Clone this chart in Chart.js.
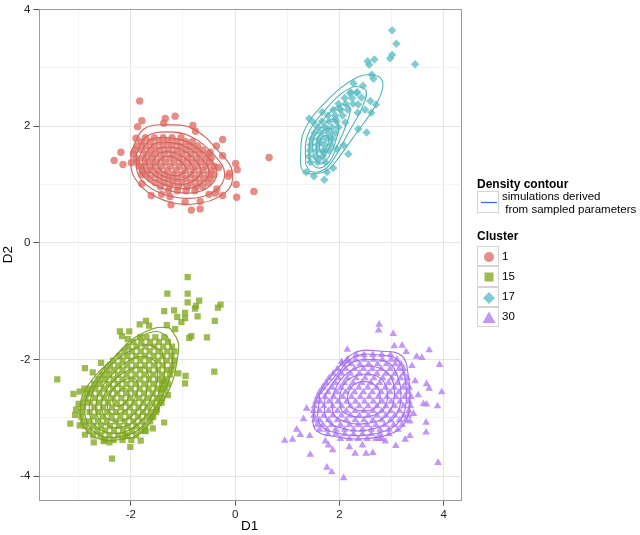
<!DOCTYPE html>
<html>
<head>
<meta charset="utf-8">
<script src="https://cdn.jsdelivr.net/npm/chart.js@4.4.0/dist/chart.umd.min.js"></script>
<style>
  body { margin: 0; background: #fff; font-family: "Liberation Sans", Arial, sans-serif; }
  #wrap { position: relative; width: 640px; height: 535px; overflow: hidden; }
  #chart { position: absolute; left: 0; top: 0; }
  .ltitle { position: absolute; left: 477px; font-weight: bold; font-size: 12px; line-height: 13px; color: #000; white-space: nowrap; }
  .ltext { position: absolute; left: 502px; font-size: 11.5px; line-height: 13.3px; color: #000; white-space: pre; }
  .key { position: absolute; left: 477px; width: 22px; box-sizing: border-box; border: 1px solid #d4d4d4; background: #fff; }
  .key svg { position: absolute; left: 0; top: 0; }
</style>
</head>
<body>
<div id="wrap">
  <canvas id="chart" width="640" height="535"></canvas>
  <div id="legend"></div>
</div>
<script>
// === DỮ LIỆU ===
const clusters = ["1", "15", "17", "30"];
const xMajorTicks = [-2, 0, 2, 4];
const yMajorTicks = [-4, -2, 0, 2, 4];
const legendContourLabel = "simulations derived\n from sampled parameters";

// Cluster 1 - scattered points [x, y]
const c1Points = [
  [-1.83,2.43],[-1.79,2.09],[-1.34,2.13],[-1.15,2.17],[-1.37,2.05],[-1.87,1.99],[-0.81,2.01],[-0.76,1.91],
  [-1.90,1.79],[-2.19,1.55],[-2.32,1.41],[-2.15,1.34],[-1.99,1.37],[-0.24,1.77],[-0.36,1.66],[-0.24,1.49],
  [0.65,1.46],[0.01,1.36],[0.04,1.25],[-0.11,1.19],[-0.13,1.14],[0.02,1.00],[0.36,0.88],[0.03,0.78],
  [-0.24,0.81],[-0.38,0.85],[-0.50,0.83],[-0.67,0.71],[-0.96,0.70],[-1.23,0.65],[-0.84,0.56],[-0.67,0.58],
  [-1.61,0.81],[-1.79,1.01],[-1.41,0.83],[-1.25,0.79],[-0.35,0.92],[-0.32,1.29],[-0.48,1.55],[-1.79,1.17]
];
// Cluster 1 - dense core, rows of [y, x1, x2, ...]
const c1Rows = [
  [1.80, -1.72,-1.55,-1.38,-1.21,-1.04],
  [1.73, -1.80,-1.63,-1.46,-1.29,-1.12,-0.95,-0.82],
  [1.66, -1.88,-1.72,-1.55,-1.38,-1.21,-1.04,-0.87,-0.72],
  [1.59, -1.92,-1.79,-1.62,-1.45,-1.28,-1.11,-0.94,-0.77,-0.62],
  [1.52, -1.95,-1.70,-1.53,-1.36,-1.19,-1.02,-0.85,-0.68,-0.52],
  [1.45, -1.90,-1.76,-1.59,-1.42,-1.25,-1.08,-0.91,-0.74,-0.57,-0.46],
  [1.38, -1.88,-1.68,-1.51,-1.34,-1.17,-1.00,-0.83,-0.66,-0.49],
  [1.31, -1.84,-1.75,-1.58,-1.41,-1.24,-1.07,-0.90,-0.73,-0.56,-0.40],
  [1.24, -1.78,-1.64,-1.47,-1.30,-1.13,-0.96,-0.79,-0.62,-0.45],
  [1.17, -1.70,-1.53,-1.36,-1.19,-1.02,-0.85,-0.68,-0.51,-0.41],
  [1.10, -1.63,-1.45,-1.28,-1.11,-0.94,-0.77,-0.60,-0.47],
  [1.03, -1.53,-1.36,-1.19,-1.02,-0.85,-0.68,-0.52],
  [0.96, -1.43,-1.26,-1.09,-0.92,-0.75,-0.62],
  [0.89, -1.28,-1.11,-0.94,-0.77]
];
const c1Contours = [
  [[-2.0,1.55],[-1.75,1.95],[-1.3,2.02],[-0.8,1.95],[-0.3,1.55],[-0.05,1.2],[-0.2,0.85],[-0.85,0.66],[-1.55,0.8],[-1.95,1.15]],
  [[-1.9,1.5],[-1.7,1.82],[-1.3,1.9],[-0.85,1.82],[-0.4,1.5],[-0.2,1.18],[-0.4,0.88],[-0.9,0.76],[-1.5,0.88],[-1.85,1.15]],
  [[-1.85,1.45],[-1.65,1.75],[-1.3,1.8],[-0.9,1.72],[-0.5,1.45],[-0.35,1.18],[-0.55,0.93],[-0.95,0.85],[-1.45,0.95],[-1.8,1.18]],
  [[-1.78,1.42],[-1.58,1.68],[-1.3,1.72],[-0.95,1.65],[-0.62,1.42],[-0.5,1.2],[-0.68,1.0],[-1.0,0.93],[-1.42,1.02],[-1.72,1.2]],
  [[-1.7,1.4],[-1.52,1.6],[-1.28,1.64],[-1.0,1.58],[-0.75,1.4],[-0.65,1.22],[-0.8,1.06],[-1.05,1.0],[-1.38,1.08],[-1.63,1.22]],
  [[-1.6,1.38],[-1.45,1.53],[-1.27,1.56],[-1.05,1.5],[-0.87,1.38],[-0.8,1.24],[-0.92,1.12],[-1.1,1.08],[-1.35,1.13],[-1.55,1.25]],
  [[-1.5,1.36],[-1.38,1.46],[-1.24,1.48],[-1.1,1.43],[-0.98,1.34],[-0.95,1.25],[-1.04,1.17],[-1.17,1.15],[-1.34,1.19],[-1.46,1.27]]
];

// Cluster 15
const c15Points = [
  [-0.91,-0.59],[-1.30,-0.87],[-0.91,-0.87],[-0.91,-1.02],[-0.69,-0.99],[-0.75,-1.08],[-0.77,-1.13],[-0.28,-1.06],
  [-0.33,-1.11],[-1.36,-1.17],[-1.17,-1.16],[-0.96,-1.20],[-0.72,-1.26],[-1.11,-1.27],[-0.96,-1.29],[-1.03,-1.36],
  [-0.39,-1.34],[-1.71,-1.34],[-1.83,-1.40],[-1.65,-1.42],[-1.31,-1.41],[-1.15,-1.48],[-2.21,-1.52],[-2.03,-1.52],
  [-2.17,-1.60],[-2.06,-1.65],[-0.54,-1.62],[-0.84,-1.60],[-0.88,-1.63],[-0.40,-2.21],[-1.09,-2.24],[-0.95,-2.28],
  [-0.96,-2.41],[-3.41,-2.34],[-2.88,-2.15],[-2.73,-2.22],[-2.57,-2.06],[-3.10,-2.59],[-2.98,-2.55],[-2.89,-2.50],
  [-3.00,-2.76],[-3.05,-2.86],[-3.07,-2.95],[-3.16,-3.10],[-2.98,-3.13],[-2.88,-3.29],[-2.71,-3.42],[-2.52,-3.40],
  [-2.41,-3.42],[-2.11,-3.31],[-2.01,-3.50],[-1.81,-3.39],[-1.72,-3.23],[-1.58,-3.18],[-1.36,-3.08],[-2.36,-3.70],
  [-1.60,-2.99],[-1.50,-2.86],[-1.41,-2.74],[-1.29,-2.61],[-1.37,-2.37],[-1.41,-2.51]
];
const c15Rows = [
  [-3.38, -2.50,-2.33,-2.16,-1.99],
  [-3.30, -2.72,-2.58,-2.41,-2.24,-2.07,-1.90],
  [-3.22, -2.80,-2.64,-2.49,-2.32,-2.15,-1.98,-1.81,-1.72],
  [-3.14, -2.88,-2.72,-2.57,-2.40,-2.23,-2.06,-1.89,-1.73],
  [-3.06, -2.92,-2.80,-2.63,-2.46,-2.29,-2.12,-1.95,-1.78,-1.63],
  [-2.98, -2.95,-2.71,-2.54,-2.37,-2.20,-2.03,-1.86,-1.69,-1.57],
  [-2.90, -2.94,-2.79,-2.62,-2.45,-2.28,-2.11,-1.94,-1.77,-1.60,-1.52],
  [-2.82, -2.92,-2.70,-2.53,-2.36,-2.19,-2.02,-1.85,-1.68,-1.51],
  [-2.74, -2.90,-2.78,-2.61,-2.44,-2.27,-2.10,-1.93,-1.76,-1.59,-1.45],
  [-2.66, -2.87,-2.69,-2.52,-2.35,-2.18,-2.01,-1.84,-1.67,-1.50,-1.40],
  [-2.58, -2.84,-2.77,-2.60,-2.43,-2.26,-2.09,-1.92,-1.75,-1.58,-1.42],
  [-2.50, -2.78,-2.68,-2.51,-2.34,-2.17,-2.00,-1.83,-1.66,-1.49,-1.34],
  [-2.42, -2.70,-2.59,-2.42,-2.25,-2.08,-1.91,-1.74,-1.57,-1.40,-1.29],
  [-2.34, -2.62,-2.50,-2.33,-2.16,-1.99,-1.82,-1.65,-1.48,-1.32],
  [-2.26, -2.54,-2.42,-2.25,-2.08,-1.91,-1.74,-1.57,-1.40,-1.25],
  [-2.18, -2.46,-2.33,-2.16,-1.99,-1.82,-1.65,-1.48,-1.31,-1.22],
  [-2.10, -2.40,-2.24,-2.07,-1.90,-1.73,-1.56,-1.39,-1.20],
  [-2.02, -2.34,-2.16,-1.99,-1.82,-1.65,-1.48,-1.31,-1.17],
  [-1.94, -2.22,-2.07,-1.90,-1.73,-1.56,-1.39,-1.22],
  [-1.86, -2.12,-1.98,-1.81,-1.64,-1.47,-1.30,-1.16],
  [-1.78, -2.05,-1.89,-1.72,-1.55,-1.38,-1.21],
  [-1.70, -1.95,-1.80,-1.63,-1.46,-1.29],
  [-1.62, -1.82,-1.70,-1.53,-1.36]
];
const c15Contours = [
  [[-1.25,-1.46],[-1.09,-1.71],[-1.12,-2.05],[-1.21,-2.40],[-1.47,-2.85],[-1.79,-3.25],[-2.11,-3.36],[-2.62,-3.36],[-2.91,-3.13],[-2.95,-2.68],[-2.68,-2.28],[-2.36,-2.00],[-1.98,-1.66],[-1.53,-1.46]],
  [[-1.3,-1.6],[-1.2,-1.9],[-1.25,-2.3],[-1.5,-2.8],[-1.85,-3.2],[-2.2,-3.32],[-2.6,-3.3],[-2.85,-3.05],[-2.85,-2.65],[-2.6,-2.25],[-2.25,-1.9],[-1.8,-1.6],[-1.5,-1.52]],
  [[-1.4,-1.85],[-1.35,-2.2],[-1.5,-2.65],[-1.8,-3.05],[-2.15,-3.25],[-2.55,-3.22],[-2.78,-2.98],[-2.75,-2.6],[-2.5,-2.2],[-2.1,-1.9],[-1.7,-1.75]],
  [[-1.5,-2.05],[-1.5,-2.4],[-1.7,-2.8],[-2.0,-3.1],[-2.4,-3.15],[-2.65,-2.95],[-2.62,-2.6],[-2.35,-2.25],[-2.0,-2.0],[-1.7,-1.95]],
  [[-1.65,-2.3],[-1.75,-2.7],[-2.0,-2.98],[-2.35,-3.05],[-2.55,-2.88],[-2.5,-2.58],[-2.25,-2.3],[-1.95,-2.15],[-1.72,-2.15]],
  [[-1.85,-2.45],[-1.95,-2.72],[-2.15,-2.9],[-2.38,-2.92],[-2.45,-2.75],[-2.35,-2.52],[-2.12,-2.35],[-1.92,-2.33]],
  [[-2.02,-2.6],[-2.12,-2.75],[-2.28,-2.8],[-2.35,-2.7],[-2.25,-2.56],[-2.1,-2.5]]
];

// Cluster 17
const c17Points = [
  [3.01,3.64],[3.09,3.41],[3.01,3.22],[2.97,3.16],[3.45,3.06],[2.54,3.11],[2.67,3.14],[2.57,3.05],
  [2.62,2.88],[2.65,2.81],[2.27,2.73],[2.45,2.69],[2.33,2.57],[2.20,2.56],[2.42,2.49],[2.59,2.43],
  [2.70,2.37],[2.36,2.37],[2.61,2.23],[2.35,2.23],[2.49,2.28],[2.01,2.29],[1.67,2.24],[1.42,2.13],
  [1.92,2.12],[2.11,2.06],[2.36,1.95],[2.52,1.89],[2.17,1.52],[1.88,1.28],[1.76,1.21],[1.51,1.14],
  [1.71,1.08],[1.36,1.21],[2.08,1.67],[1.76,1.95],[1.82,1.80],[1.63,1.72],[1.69,1.55],[1.95,1.61],
  [1.60,1.43],[1.73,1.38],[1.50,2.06]
];
const c17Rows = [
  [2.58, 2.22, 2.34],
  [2.48, 2.10, 2.24],
  [2.38, 1.98, 2.12, 2.26],
  [2.28, 1.88, 2.02, 2.16],
  [2.18, 1.78, 1.92, 2.06],
  [2.08, 1.66, 1.80, 1.94],
  [1.98, 1.58, 1.72, 1.86, 1.98],
  [1.88, 1.52, 1.65, 1.79, 1.92],
  [1.78, 1.47, 1.60, 1.74, 1.87],
  [1.68, 1.45, 1.58, 1.71, 1.84],
  [1.58, 1.43, 1.56, 1.69, 1.80],
  [1.48, 1.42, 1.55, 1.68],
  [1.38, 1.44, 1.58]
];
const c17Contours = [
  [[1.25,1.43],[1.31,1.89],[1.69,2.37],[2.33,2.83],[2.75,2.85],[2.83,2.66],[2.65,2.29],[2.33,1.89],[2.01,1.49],[1.76,1.24],[1.44,1.18],[1.28,1.26]],
  [[1.35,1.35],[1.38,1.82],[1.7,2.25],[2.2,2.65],[2.5,2.62],[2.45,2.35],[2.15,1.85],[1.9,1.45],[1.7,1.25],[1.45,1.22]],
  [[1.42,1.4],[1.45,1.8],[1.7,2.12],[2.0,2.35],[2.2,2.32],[2.12,2.0],[1.95,1.65],[1.8,1.38],[1.6,1.28]],
  [[1.5,1.45],[1.5,1.78],[1.68,2.0],[1.88,2.12],[1.98,2.0],[1.92,1.72],[1.8,1.48],[1.65,1.35]],
  [[1.57,1.52],[1.57,1.76],[1.7,1.92],[1.83,1.95],[1.86,1.8],[1.78,1.58],[1.67,1.45]],
  [[1.62,1.58],[1.63,1.75],[1.72,1.84],[1.79,1.8],[1.76,1.64],[1.68,1.55]]
];

// Cluster 30
const c30Points = [
  [2.76,-1.40],[2.75,-1.50],[3.03,-1.56],[3.72,-1.84],[2.15,-1.83],[3.05,-1.77],[3.20,-1.76],[3.28,-1.87],
  [3.48,-1.95],[3.58,-1.97],[3.92,-2.09],[2.04,-2.04],[2.14,-2.03],[3.39,-2.11],[3.45,-2.37],[3.67,-2.42],
  [3.72,-2.50],[3.96,-2.56],[3.51,-2.61],[3.61,-2.76],[3.67,-2.77],[3.88,-2.80],[3.42,-2.93],[3.66,-3.08],
  [3.66,-3.25],[3.35,-3.06],[3.35,-3.31],[3.26,-3.37],[3.08,-3.48],[3.89,-3.77],[1.37,-2.84],[1.31,-3.02],
  [1.18,-3.20],[1.25,-3.29],[0.95,-3.39],[1.10,-3.37],[1.43,-3.31],[1.73,-3.40],[1.79,-3.47],[1.87,-3.55],
  [1.44,-3.63],[1.76,-3.85],[1.85,-3.93],[2.08,-4.03],[2.19,-3.50],[2.30,-3.61],[2.44,-3.47],[2.51,-3.61],
  [2.64,-3.60],[2.88,-3.40],[2.77,-3.36]
];
const c30Rows = [
  [-3.36, 2.02,2.19,2.36,2.53,2.70,2.82],
  [-3.28, 1.78,1.93,2.10,2.27,2.44,2.61,2.78,2.95],
  [-3.20, 1.62,1.76,1.93,2.10,2.27,2.44,2.61,2.78,2.95,3.12],
  [-3.12, 1.57,1.68,1.85,2.02,2.19,2.36,2.53,2.70,2.87,3.04,3.20],
  [-3.04, 1.53,1.62,1.79,1.96,2.13,2.30,2.47,2.64,2.81,2.98,3.15,3.27],
  [-2.96, 1.51,1.70,1.87,2.04,2.21,2.38,2.55,2.72,2.89,3.06,3.23,3.32],
  [-2.88, 1.50,1.62,1.79,1.96,2.13,2.30,2.47,2.64,2.81,2.98,3.15,3.33],
  [-2.80, 1.52,1.70,1.87,2.04,2.21,2.38,2.55,2.72,2.89,3.06,3.23,3.36],
  [-2.72, 1.55,1.63,1.80,1.97,2.14,2.31,2.48,2.65,2.82,2.99,3.16,3.33],
  [-2.64, 1.58,1.72,1.89,2.06,2.23,2.40,2.57,2.74,2.91,3.08,3.25,3.37],
  [-2.56, 1.62,1.78,1.95,2.12,2.29,2.46,2.63,2.80,2.97,3.14,3.31],
  [-2.48, 1.68,1.86,2.03,2.20,2.37,2.54,2.71,2.88,3.05,3.22,3.34],
  [-2.40, 1.74,1.92,2.09,2.26,2.43,2.60,2.77,2.94,3.11,3.28],
  [-2.32, 1.80,1.98,2.15,2.32,2.49,2.66,2.83,3.00,3.17,3.30],
  [-2.24, 1.88,2.04,2.21,2.38,2.55,2.72,2.89,3.06,3.23],
  [-2.16, 1.96,2.12,2.29,2.46,2.63,2.80,2.97,3.14,3.23],
  [-2.08, 2.06,2.22,2.39,2.56,2.73,2.90,3.07,3.18],
  [-2.00, 2.16,2.31,2.48,2.65,2.82,2.99,3.10],
  [-1.92, 2.32,2.47,2.64,2.81,2.98]
];
const c30Contours = [
  [[1.53,-2.74],[1.53,-3.19],[1.98,-3.33],[2.43,-3.36],[3.00,-3.27],[3.26,-3.08],[3.35,-2.74],[3.32,-2.28],[3.20,-1.94],[2.81,-1.86],[2.30,-1.88],[1.92,-2.20],[1.66,-2.51]],
  [[1.62,-2.6],[1.62,-3.1],[2.0,-3.27],[2.45,-3.3],[2.95,-3.2],[3.2,-3.0],[3.28,-2.7],[3.25,-2.3],[3.1,-2.0],[2.75,-1.92],[2.3,-1.95],[1.95,-2.25]],
  [[1.72,-2.62],[1.75,-3.02],[2.05,-3.18],[2.45,-3.22],[2.9,-3.1],[3.12,-2.9],[3.18,-2.6],[3.12,-2.3],[2.95,-2.06],[2.6,-2.0],[2.25,-2.05],[1.95,-2.3]],
  [[1.85,-2.65],[1.9,-2.95],[2.15,-3.08],[2.5,-3.1],[2.85,-3.0],[3.02,-2.78],[3.05,-2.5],[2.95,-2.25],[2.65,-2.12],[2.3,-2.15],[2.02,-2.35]],
  [[2.0,-2.65],[2.05,-2.88],[2.3,-2.98],[2.6,-2.97],[2.85,-2.85],[2.92,-2.6],[2.82,-2.35],[2.55,-2.25],[2.25,-2.3],[2.07,-2.45]],
  [[2.15,-2.65],[2.22,-2.82],[2.45,-2.88],[2.7,-2.82],[2.78,-2.6],[2.65,-2.42],[2.42,-2.38],[2.22,-2.48]]
];

// === KIỂU DÁNG ===
const FONT = '"Liberation Sans", Arial, sans-serif';
const styles = {
  "1":  { fill: 'rgba(222,112,104,0.8)', line: '#D2625A', shape: 'circle',   r: 3.7 },
  "15": { fill: 'rgba(132,170,36,0.8)',  line: '#7AA020', shape: 'rect',     r: 4.4 },
  "17": { fill: 'rgba(96,192,198,0.8)',  line: '#52B4B9', shape: 'rectRot',  r: 4.2 },
  "30": { fill: 'rgba(178,126,245,0.8)', line: '#A470EC', shape: 'triangle', r: 4.4 }
};

const pairs = list => list.map(([x, y]) => ({ x, y }));
const rowsToPoints = rows => rows.flatMap(([y, ...xs]) => xs.map(x => ({ x, y })));
const closeRing = ring => pairs(ring.concat([ring[0]]));

const sources = {
  "1":  { pts: c1Points,  rows: c1Rows,  contours: c1Contours },
  "15": { pts: c15Points, rows: c15Rows, contours: c15Contours },
  "17": { pts: c17Points, rows: c17Rows, contours: c17Contours },
  "30": { pts: c30Points, rows: c30Rows, contours: c30Contours }
};

const datasets = [];
clusters.forEach(name => {
  const s = styles[name];
  const src = sources[name];
  src.contours.forEach(ring => {
    datasets.push({
      label: 'contour ' + name,
      data: closeRing(ring),
      showLine: true,
      tension: 0.4,
      borderColor: s.line,
      borderWidth: 1.1,
      pointRadius: 0,
      fill: false,
      order: 0
    });
  });
  datasets.push({
    label: name,
    data: rowsToPoints(src.rows).concat(pairs(src.pts)),
    pointStyle: s.shape,
    pointRadius: s.r,
    pointBackgroundColor: s.fill,
    pointBorderWidth: 0,
    showLine: false,
    order: 1
  });
});

const isMajor = (list, v) => list.includes(Math.round(v * 1000) / 1000);

// khung viền panel
const panelBorder = {
  id: 'panelBorder',
  afterDraw(chart) {
    const { ctx, chartArea: a } = chart;
    ctx.save();
    ctx.strokeStyle = '#9c9c9c';
    ctx.lineWidth = 1;
    ctx.strokeRect(Math.round(a.left) + 0.5, Math.round(a.top) + 0.5, Math.round(a.right - a.left) - 1, Math.round(a.bottom - a.top) - 1);
    ctx.restore();
  }
};

function axis(min, max, majors, titleText, isX) {
  return {
    type: 'linear',
    min: min,
    max: max,
    afterFit: s => { if (isX) s.height = 34.3; else s.width = 38.5; },
    border: { display: false },
    grid: {
      color: c => isMajor(majors, c.tick.value) ? '#e5e5e5' : '#f4f4f4',
      tickColor: c => isMajor(majors, c.tick.value) ? '#555' : 'rgba(0,0,0,0)',
      tickLength: 5,
      lineWidth: 1
    },
    ticks: {
      stepSize: 1,
      includeBounds: false,
      autoSkip: false,
      maxRotation: 0,
      padding: 3,
      color: '#222',
      font: { family: FONT, size: 11.5, lineHeight: 1 },
      callback: v => isMajor(majors, v) ? String(Math.round(v)) : ''
    },
    title: {
      display: true,
      text: titleText,
      color: '#000',
      font: { family: FONT, size: 13.5 },
      padding: { top: 0, bottom: 1 }
    }
  };
}

new Chart(document.getElementById('chart').getContext('2d'), {
  type: 'scatter',
  data: { datasets: datasets },
  options: {
    responsive: false,
    animation: false,
    events: [],
    devicePixelRatio: 1,
    layout: { padding: { left: 0, top: 5.7, right: 179, bottom: 0 } },
    plugins: { legend: { display: false }, tooltip: { enabled: false } },
    scales: {
      x: axis(-3.77, 4.33, xMajorTicks, 'D1', true),
      y: axis(-4.42, 4.01, yMajorTicks, 'D2', false)
    }
  },
  plugins: [panelBorder]
});

// === CHÚ GIẢI (HTML) ===
const legend = document.getElementById('legend');
const symbolSvg = {
  circle: c => `<circle cx="11" cy="10" r="5" fill="${c}"/>`,
  rect: c => `<rect x="6.5" y="5.5" width="9" height="9" fill="${c}"/>`,
  rectRot: c => `<polygon points="11,4 17,10 11,16 5,10" fill="${c}"/>`,
  triangle: c => `<polygon points="11,3.5 17.5,15 4.5,15" fill="${c}"/>`
};
let html = '';
html += `<div class="ltitle" style="top:177.5px">Density contour</div>`;
html += `<div class="key" style="top:191px;height:22px"><svg width="22" height="22"><line x1="3" y1="10.5" x2="19" y2="10.5" stroke="#3366FF" stroke-width="1.2"/></svg></div>`;
html += `<div class="ltext" style="top:189.5px">${legendContourLabel}</div>`;
html += `<div class="ltitle" style="top:230px">Cluster</div>`;
clusters.forEach((name, i) => {
  const s = styles[name];
  const top = 246 + i * 20.3;
  html += `<div class="key" style="top:${top}px;height:20.3px"><svg width="22" height="20">${symbolSvg[s.shape](s.fill)}</svg></div>`;
  html += `<div class="ltext" style="top:${top + 3.5}px">${name}</div>`;
});
legend.innerHTML = html;
</script>
</body>
</html>
